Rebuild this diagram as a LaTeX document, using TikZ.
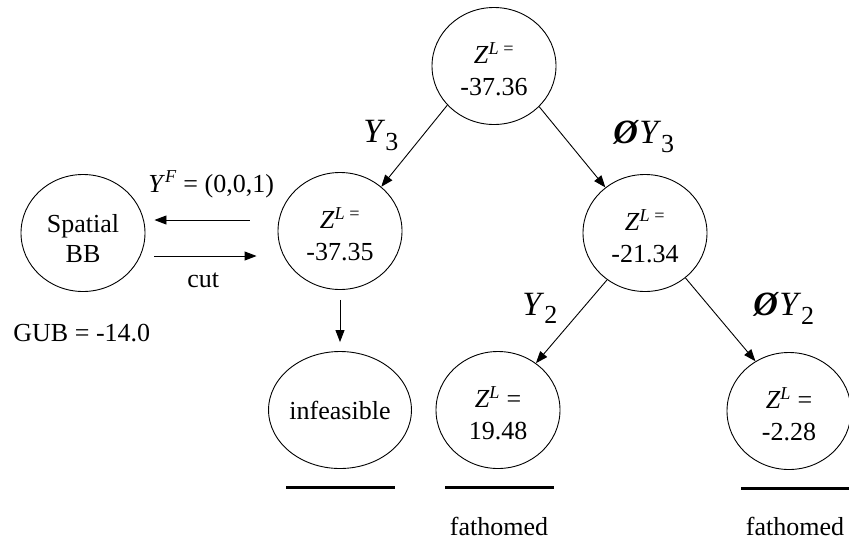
\documentclass[tikz,border=0pt]{standalone}
\usepackage{fontspec}
\setmainfont{Liberation Serif}
\usetikzlibrary{shapes.geometric,arrows.meta}

\tikzset{
	bbnode/.style={draw, ellipse, minimum width=124pt, minimum height=117pt, inner sep=0pt, align=center, font=\fontsize{26}{32}\selectfont},
	branch/.style={-{Triangle[length=12pt,width=9pt]}},
	lbl/.style={inner sep=0pt, font=\fontsize{26}{30}\selectfont},
	fathom/.style={line width=3pt},
}

\begin{document}
\begin{tikzpicture}[x=1pt,y=-1pt,line width=0.9pt]
	\useasboundingbox (0,0) rectangle (849,542);

	\draw (494,66) node[bbnode] (root){\rule{0pt}{27pt}\textit{Z}\textsuperscript{\textit{L} =}\\-37.36};
	\draw (340,231) node[bbnode] (left){\rule{0pt}{27pt}\textit{Z}\textsuperscript{\textit{L} =}\\-37.35};
	\draw (645,233) node[bbnode] (right){\rule{0pt}{27pt}\textit{Z}\textsuperscript{\textit{L} =}\\-21.34};
	\draw (83,233) node[bbnode,font=\fontsize{26}{30}\selectfont] (spatial){\rule{0pt}{29pt}Spatial\\BB};
	\draw (340,410) node[bbnode] (infeas){infeasible};
	\draw (498,410) node[bbnode] (leaf1){\rule{0pt}{27pt}\textit{Z}\textsuperscript{\textit{L}} =\\19.48};
	\draw (789,411) node[bbnode] (leaf2){\rule{0pt}{27pt}\textit{Z}\textsuperscript{\textit{L}} =\\-2.28};

	\draw[branch] (root.220) -- (left.47);
	\draw[branch] (root.318) -- (right.131);
	\draw[branch] (right.231) -- (leaf1.51);
	\draw[branch] (right.312) -- (leaf2.124);
	\draw[branch] ([shift={(0,10)}]left.south) -- ([shift={(0,-9)}]infeas.north);
	\draw[branch] ([shift={(-28,-11)}]left.west) -- ([shift={(9,-13)}]spatial.east);
	\draw[branch] ([shift={(9,23)}]spatial.east) -- ([shift={(-21,25)}]left.west);

	\draw (363,142) node[lbl,anchor=base west] (y3){{\fontsize{34}{34}\selectfont\textit{Y}}\raisebox{-8pt}{3}};
	\draw (613,143) node[lbl,anchor=base west] (ny3){{\fontsize{34}{34}\selectfont\textbf{\textit{Ø}}\textit{Y}}\raisebox{-9pt}{3}};
	\draw (522,315) node[lbl,anchor=base west] (y2){{\fontsize{34}{34}\selectfont\textit{Y}}\raisebox{-8pt}{2}};
	\draw (753,315) node[lbl,anchor=base west] (ny2){{\fontsize{34}{34}\selectfont\textbf{\textit{Ø}}\textit{Y}}\raisebox{-9pt}{2}};
	\draw (148,192) node[lbl,anchor=base west] (yf){\textit{Y}\textsuperscript{\textit{F}} = (0,0,1)};
	\draw (187,287) node[lbl,anchor=base west] (cut){cut};
	\draw (13,341) node[lbl,anchor=base west] (gub){GUB = -14.0};

	\draw[fathom] ([shift={(-54,19)}]infeas.south) -- ++(109,0);
	\draw[fathom] ([shift={(-53,19)}]leaf1.south) -- ++(109,0);
	\draw[fathom] ([shift={(-48,19)}]leaf2.south) -- ++(115,0);

	\draw (499,535) node[lbl,anchor=base] (fath1){fathomed};
	\draw (795,535) node[lbl,anchor=base] (fath2){fathomed};
\end{tikzpicture}
\end{document}
